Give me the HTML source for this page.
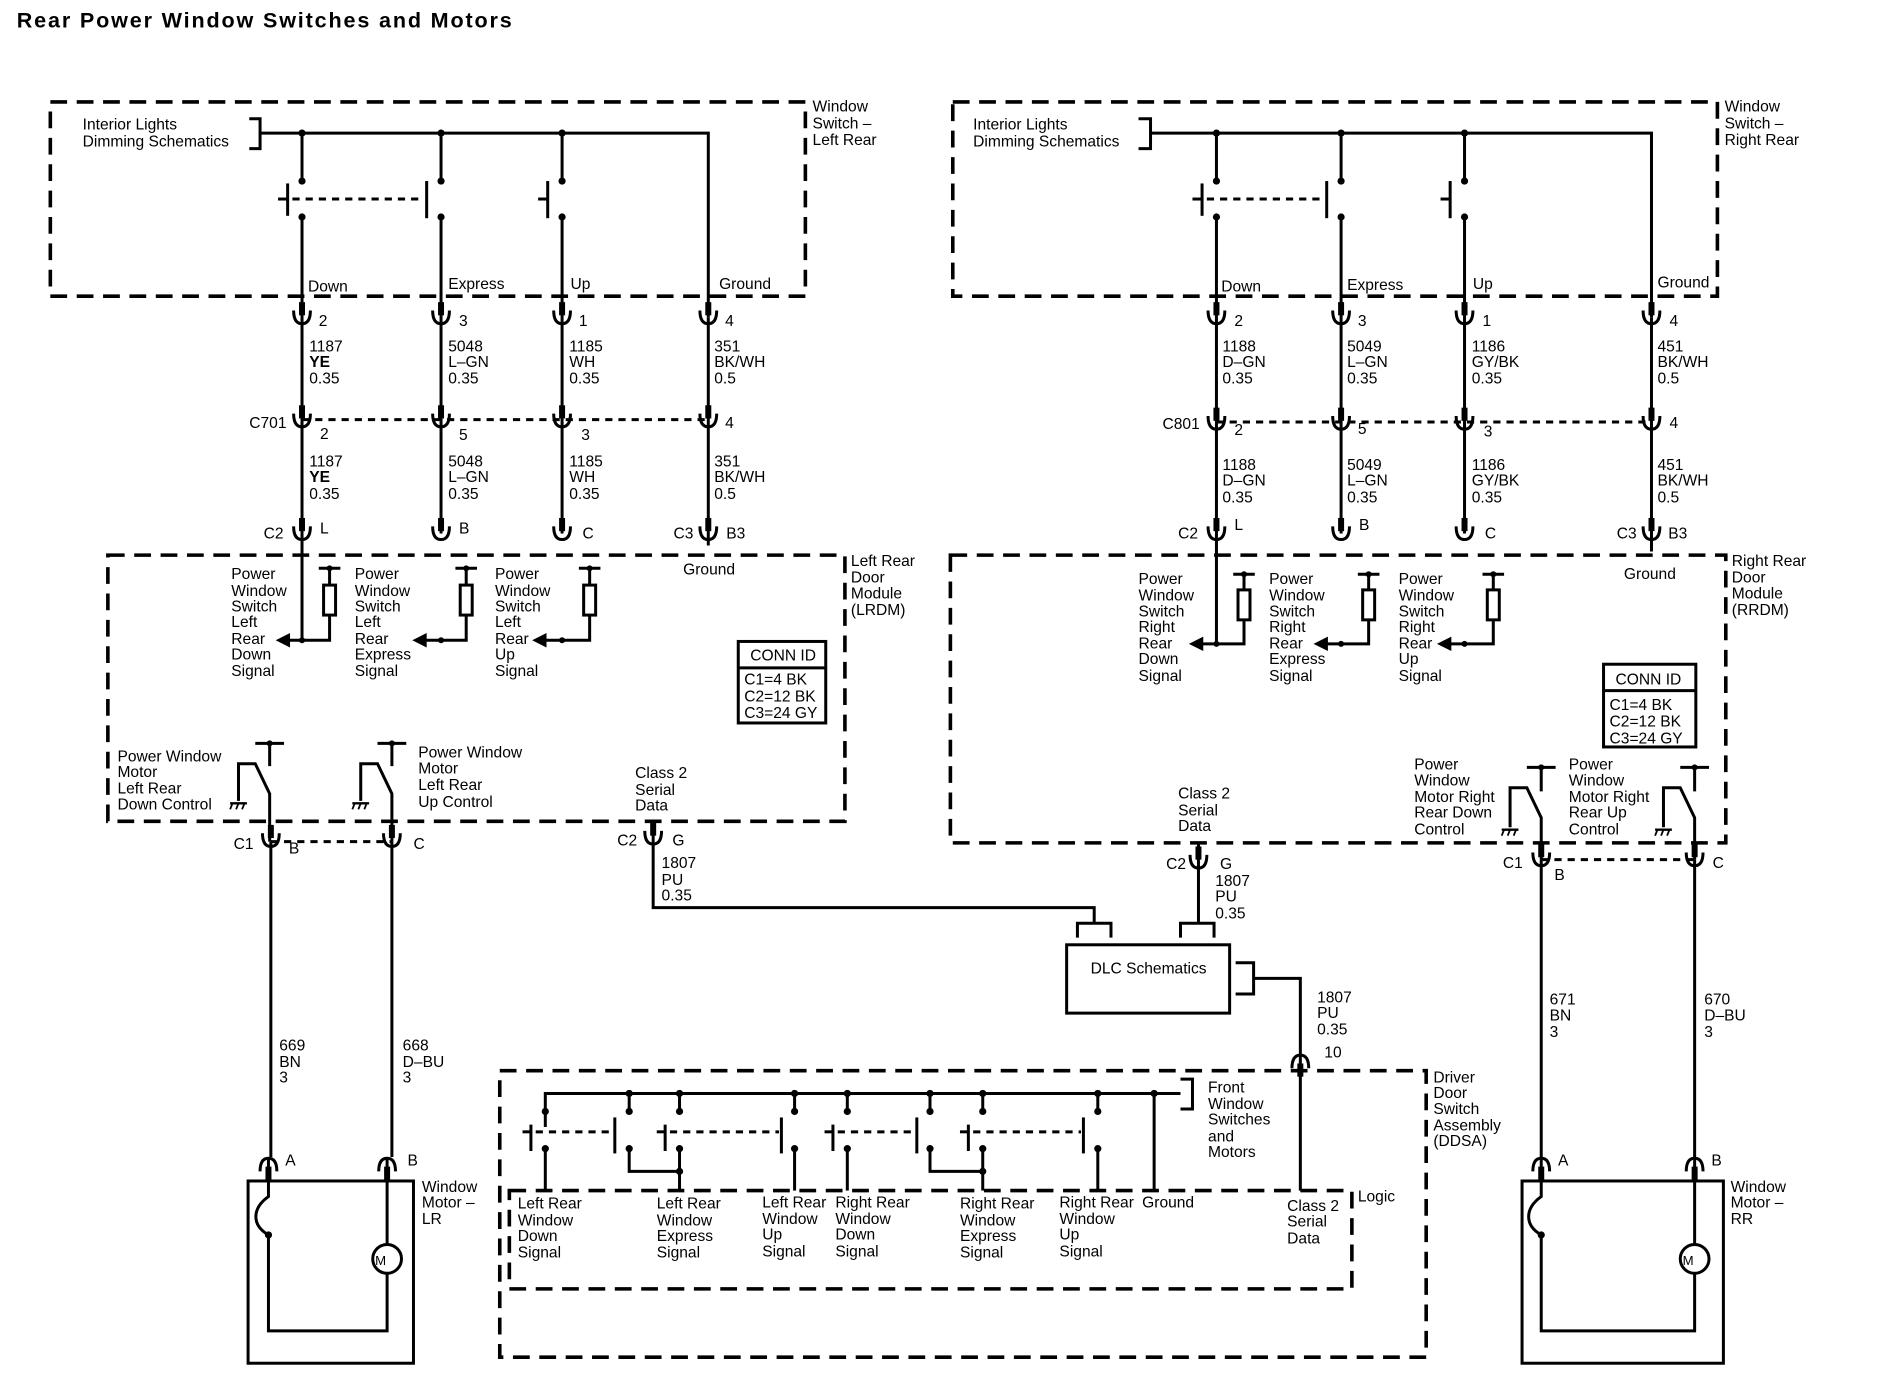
<!DOCTYPE html>
<html><head><meta charset="utf-8"><style>
html,body{margin:0;padding:0;background:#fff;}
svg{display:block;}
text{font-family:"Liberation Sans",Arial,sans-serif;font-size:13px;fill:#000;}
.b{font-weight:bold;}
</style></head><body>
<svg width="1878" height="1392" viewBox="0 0 1567 1161" preserveAspectRatio="none" xmlns="http://www.w3.org/2000/svg">
<defs>
<g id="cup"><line x1="0" y1="-14" x2="0" y2="-3" stroke="#000" stroke-width="5"/><path d="M-7,-7 Q-7,4 0,4 Q7,4 7,-7" fill="none" stroke="#000" stroke-width="2.5"/></g>
<g id="arch"><line x1="0" y1="14" x2="0" y2="3" stroke="#000" stroke-width="5"/><path d="M-7,7 Q-7,-4 0,-4 Q7,-4 7,7" fill="none" stroke="#000" stroke-width="2.5"/></g>
<g id="gnd"><line x1="-7" y1="0" x2="7" y2="0" stroke="#000" stroke-width="2"/><line x1="-5" y1="0" x2="-7" y2="5" stroke="#000" stroke-width="1.5"/><line x1="0" y1="0" x2="-2" y2="5" stroke="#000" stroke-width="1.5"/><line x1="5" y1="0" x2="3" y2="5" stroke="#000" stroke-width="1.5"/></g>
</defs>
<text x="14" y="23" class="b" style="font-size:18px" textLength="413">Rear Power Window Switches and Motors</text>

<g fill="none" stroke="#000" stroke-width="3" stroke-dasharray="14,8">
<rect x="42" y="85" width="630" height="162"/>
<rect x="795" y="85" width="638" height="162"/>
<rect x="90" y="463" width="615" height="222"/>
<rect x="793" y="463" width="647" height="240"/>
<rect x="417" y="893" width="773" height="239"/>
<rect x="425" y="993" width="703" height="82"/>
</g>

<g fill="none" stroke="#000" stroke-width="2.5">
<path d="M208,99 H217 V124 H208"/>
<path d="M217,111 H591 V265"/>
<line x1="252" y1="111" x2="252" y2="151"/><line x1="368" y1="111" x2="368" y2="151"/><line x1="469" y1="111" x2="469" y2="151"/>
<line x1="252" y1="181" x2="252" y2="445"/><line x1="368" y1="181" x2="368" y2="445"/><line x1="469" y1="181" x2="469" y2="445"/><line x1="591" y1="265" x2="591" y2="455"/>
<line x1="240" y1="153" x2="240" y2="180"/><line x1="232" y1="166" x2="240" y2="166"/>
<line x1="356" y1="151" x2="356" y2="182"/>
<line x1="457" y1="151" x2="457" y2="182"/><line x1="449" y1="166" x2="457" y2="166"/>
<line x1="244" y1="166" x2="354" y2="166" stroke-dasharray="6,5"/>
<line x1="252" y1="350" x2="591" y2="350" stroke-dasharray="6,5"/>
<line x1="252" y1="445" x2="252" y2="534"/>
<path d="M266,474 H284 M275,474 V488 M275,513 V534 H238"/><rect x="270" y="488" width="10" height="25"/>
<path d="M380,474 H398 M389,474 V488 M389,513 V534 H352"/><rect x="384" y="488" width="10" height="25"/>
<path d="M483,474 H501 M492,474 V488 M492,513 V534 H452"/><rect x="487" y="488" width="10" height="25"/>
<path d="M213,620 H237 M225,620 V639"/><path d="M199,668 V637 H213 L225,662 V702"/>
<path d="M315,620 H339 M327,620 V639"/><path d="M301,668 V637 H315 L327,662 V702"/>
<line x1="226" y1="702" x2="327" y2="702" stroke-dasharray="6,5"/>
<line x1="226" y1="702" x2="226" y2="965"/><line x1="327" y1="702" x2="327" y2="965"/>
<path d="M545,685 V757 H913 V770"/>
<path d="M899,782 V770 H927 V782"/>
<path d="M985,782 V770 H1013 V782"/>
<rect x="890" y="788" width="136" height="57"/>
<path d="M1031,803 H1046 V829 H1031 M1046,816 H1085 V993"/>
<rect x="207" y="985" width="138" height="152"/>
<path d="M224,965 V998 C210,1008 210,1022 224,1030 V1110 H323 V1062 M323,1038 V965"/>
<circle cx="323" cy="1050" r="12"/>
<path d="M455,940 V912 H985 M985,900 H995 V925 H985"/>
<line x1="525" y1="912" x2="525" y2="925"/><line x1="567" y1="912" x2="567" y2="925"/>
<line x1="663" y1="912" x2="663" y2="925"/><line x1="707" y1="912" x2="707" y2="925"/>
<line x1="776" y1="912" x2="776" y2="925"/><line x1="820" y1="912" x2="820" y2="925"/>
<line x1="916" y1="912" x2="916" y2="925"/><line x1="963" y1="912" x2="963" y2="993"/>
<line x1="455" y1="960" x2="455" y2="993"/>
<path d="M525,960 V977 H567"/><line x1="567" y1="960" x2="567" y2="993"/>
<line x1="663" y1="960" x2="663" y2="993"/><line x1="707" y1="960" x2="707" y2="993"/>
<path d="M776,960 V977 H820"/><line x1="820" y1="960" x2="820" y2="993"/>
<line x1="916" y1="960" x2="916" y2="993"/>
<line x1="443" y1="938" x2="443" y2="960"/><line x1="436" y1="944" x2="443" y2="944"/>
<line x1="513" y1="932" x2="513" y2="962"/>
<line x1="555" y1="938" x2="555" y2="960"/><line x1="548" y1="944" x2="555" y2="944"/>
<line x1="652" y1="932" x2="652" y2="962"/>
<line x1="695" y1="938" x2="695" y2="960"/><line x1="688" y1="944" x2="695" y2="944"/>
<line x1="765" y1="932" x2="765" y2="962"/>
<line x1="808" y1="938" x2="808" y2="960"/><line x1="801" y1="944" x2="808" y2="944"/>
<line x1="904" y1="932" x2="904" y2="962"/>
<g stroke-dasharray="6,5"><line x1="447" y1="944" x2="511" y2="944"/><line x1="559" y1="944" x2="650" y2="944"/><line x1="699" y1="944" x2="763" y2="944"/><line x1="812" y1="944" x2="902" y2="944"/></g>

<path d="M950,99 H960 V124 H950"/>
<path d="M960,111 H1378 V265"/>
<line x1="1015" y1="111" x2="1015" y2="151"/><line x1="1119" y1="111" x2="1119" y2="151"/><line x1="1222" y1="111" x2="1222" y2="151"/>
<line x1="1015" y1="181" x2="1015" y2="445"/><line x1="1119" y1="181" x2="1119" y2="445"/><line x1="1222" y1="181" x2="1222" y2="445"/><line x1="1378" y1="265" x2="1378" y2="460"/>
<line x1="1003" y1="153" x2="1003" y2="180"/><line x1="995" y1="166" x2="1003" y2="166"/>
<line x1="1107" y1="151" x2="1107" y2="182"/>
<line x1="1210" y1="151" x2="1210" y2="182"/><line x1="1202" y1="166" x2="1210" y2="166"/>
<line x1="1007" y1="166" x2="1105" y2="166" stroke-dasharray="6,5"/>
<line x1="1015" y1="352" x2="1378" y2="352" stroke-dasharray="6,5"/>
<line x1="1015" y1="445" x2="1015" y2="537"/>
<path d="M1029,479 H1047 M1038,479 V492 M1038,517 V537 H1000"/><rect x="1033" y="492" width="10" height="25"/>
<path d="M1133,479 H1151 M1142,479 V492 M1142,517 V537 H1104"/><rect x="1137" y="492" width="10" height="25"/>
<path d="M1237,479 H1255 M1246,479 V492 M1246,517 V537 H1207"/><rect x="1241" y="492" width="10" height="25"/>
<path d="M1274,640 H1298 M1286,640 V660"/><path d="M1260,690 V657 H1274 L1286,682 V717"/>
<path d="M1402,640 H1426 M1414,640 V660"/><path d="M1388,690 V657 H1402 L1414,682 V717"/>
<line x1="1286" y1="717" x2="1414" y2="717" stroke-dasharray="6,5"/>
<line x1="1286" y1="717" x2="1286" y2="965"/><line x1="1414" y1="717" x2="1414" y2="965"/>
<path d="M1000,703 V770"/>
<rect x="1270" y="985" width="168" height="152"/>
<path d="M1286,965 V998 C1272,1008 1272,1022 1286,1030 V1110 H1414 V1062 M1414,1038 V965"/>
<circle cx="1414" cy="1050" r="12"/>
</g>
<g fill="#000">
<path d="M230,534 L242,528 L242,540 Z"/><path d="M344,534 L356,528 L356,540 Z"/><path d="M444,534 L456,528 L456,540 Z"/>
<path d="M992,537 L1004,531 L1004,543 Z"/><path d="M1096,537 L1108,531 L1108,543 Z"/><path d="M1199,537 L1211,531 L1211,543 Z"/>
</g>
<g fill="none" stroke="#000" stroke-width="2.5"><rect x="616" y="535" width="73" height="68"/><line x1="616" y1="557" x2="689" y2="557"/>
<rect x="1338" y="554" width="77" height="69"/><line x1="1338" y1="576" x2="1415" y2="576"/></g>
<text x="626" y="551">CONN ID</text><text x="621" y="571">C1=4 BK</text><text x="621" y="585">C2=12 BK</text><text x="621" y="599">C3=24 GY</text>
<text x="1348" y="571">CONN ID</text><text x="1343" y="592">C1=4 BK</text><text x="1343" y="606">C2=12 BK</text><text x="1343" y="620">C3=24 GY</text>

<g fill="#000">
<circle cx="252" cy="111" r="3"/><circle cx="368" cy="111" r="3"/><circle cx="469" cy="111" r="3"/>
<circle cx="252" cy="151" r="3"/><circle cx="368" cy="151" r="3"/><circle cx="469" cy="151" r="3"/>
<circle cx="252" cy="181" r="3"/><circle cx="368" cy="181" r="3"/><circle cx="469" cy="181" r="3"/>
<circle cx="1015" cy="111" r="3"/><circle cx="1119" cy="111" r="3"/><circle cx="1222" cy="111" r="3"/>
<circle cx="1015" cy="151" r="3"/><circle cx="1119" cy="151" r="3"/><circle cx="1222" cy="151" r="3"/>
<circle cx="1015" cy="181" r="3"/><circle cx="1119" cy="181" r="3"/><circle cx="1222" cy="181" r="3"/>
<circle cx="252" cy="534" r="2.5"/><circle cx="368" cy="534" r="2.5"/><circle cx="469" cy="534" r="2.5"/>
<circle cx="1015" cy="537" r="2.5"/><circle cx="1119" cy="537" r="2.5"/><circle cx="1222" cy="537" r="2.5"/>
<circle cx="275" cy="474" r="2.5"/><circle cx="389" cy="474" r="2.5"/><circle cx="492" cy="474" r="2.5"/>
<circle cx="1038" cy="479" r="2.5"/><circle cx="1142" cy="479" r="2.5"/><circle cx="1246" cy="479" r="2.5"/>
<circle cx="225" cy="620" r="2.5"/><circle cx="327" cy="620" r="2.5"/><circle cx="1286" cy="640" r="2.5"/><circle cx="1414" cy="640" r="2.5"/>
<circle cx="525" cy="912" r="3"/><circle cx="567" cy="912" r="3"/><circle cx="663" cy="912" r="3"/><circle cx="707" cy="912" r="3"/><circle cx="776" cy="912" r="3"/><circle cx="820" cy="912" r="3"/><circle cx="916" cy="912" r="3"/><circle cx="963" cy="912" r="3"/>
<circle cx="455" cy="927" r="3"/><circle cx="525" cy="927" r="3"/><circle cx="567" cy="927" r="3"/><circle cx="663" cy="927" r="3"/><circle cx="707" cy="927" r="3"/><circle cx="776" cy="927" r="3"/><circle cx="820" cy="927" r="3"/><circle cx="916" cy="927" r="3"/>
<circle cx="455" cy="958" r="3"/><circle cx="525" cy="958" r="3"/><circle cx="567" cy="958" r="3"/><circle cx="663" cy="958" r="3"/><circle cx="707" cy="958" r="3"/><circle cx="776" cy="958" r="3"/><circle cx="820" cy="958" r="3"/><circle cx="916" cy="958" r="3"/>
<circle cx="567" cy="977" r="3"/><circle cx="820" cy="977" r="3"/>
<circle cx="224" cy="1030" r="3"/><circle cx="1286" cy="1030" r="3"/>
</g>
<use href="#gnd" x="199" y="670"/><use href="#gnd" x="301" y="670"/><use href="#gnd" x="1260" y="692"/><use href="#gnd" x="1388" y="692"/>

<use href="#cup" x="252" y="266"/><use href="#cup" x="368" y="266"/><use href="#cup" x="469" y="266"/><use href="#cup" x="591" y="266"/>
<use href="#cup" x="252" y="352"/><use href="#cup" x="368" y="352"/><use href="#cup" x="469" y="352"/><use href="#cup" x="591" y="352"/>
<use href="#cup" x="252" y="446"/><use href="#cup" x="368" y="446"/><use href="#cup" x="469" y="446"/><use href="#cup" x="591" y="446"/>
<use href="#cup" x="1015" y="266"/><use href="#cup" x="1119" y="266"/><use href="#cup" x="1222" y="266"/><use href="#cup" x="1378" y="266"/>
<use href="#cup" x="1015" y="354"/><use href="#cup" x="1119" y="354"/><use href="#cup" x="1222" y="354"/><use href="#cup" x="1378" y="354"/>
<use href="#cup" x="1015" y="446"/><use href="#cup" x="1119" y="446"/><use href="#cup" x="1222" y="446"/><use href="#cup" x="1378" y="446"/>
<use href="#cup" x="226" y="702"/><use href="#cup" x="327" y="702"/><use href="#cup" x="545" y="700"/>
<use href="#cup" x="1286" y="718"/><use href="#cup" x="1414" y="718"/><use href="#cup" x="1000" y="720"/>
<use href="#arch" x="224" y="970"/><use href="#arch" x="323" y="970"/><use href="#arch" x="1286" y="970"/><use href="#arch" x="1414" y="970"/><use href="#arch" x="1085" y="884"/>

<text x="69" y="108">Interior Lights</text><text x="69" y="122">Dimming Schematics</text>
<text x="678" y="93">Window</text><text x="678" y="107">Switch –</text><text x="678" y="121">Left Rear</text>
<text x="257" y="243">Down</text><text x="374" y="241">Express</text><text x="476" y="241">Up</text><text x="600" y="241">Ground</text>
<text x="266" y="272">2</text><text x="383" y="272">3</text><text x="483" y="272">1</text><text x="605" y="272">4</text>
<text x="258" y="293">1187</text><text x="258" y="306" class="b">YE</text><text x="258" y="320">0.35</text>
<text x="374" y="293">5048</text><text x="374" y="306">L–GN</text><text x="374" y="320">0.35</text>
<text x="475" y="293">1185</text><text x="475" y="306">WH</text><text x="475" y="320">0.35</text>
<text x="596" y="293">351</text><text x="596" y="306">BK/WH</text><text x="596" y="320">0.5</text>
<text x="208" y="357">C701</text>
<text x="267" y="366">2</text><text x="383" y="367">5</text><text x="485" y="367">3</text><text x="605" y="357">4</text>
<text x="258" y="389">1187</text><text x="258" y="402" class="b">YE</text><text x="258" y="416">0.35</text>
<text x="374" y="389">5048</text><text x="374" y="402">L–GN</text><text x="374" y="416">0.35</text>
<text x="475" y="389">1185</text><text x="475" y="402">WH</text><text x="475" y="416">0.35</text>
<text x="596" y="389">351</text><text x="596" y="402">BK/WH</text><text x="596" y="416">0.5</text>
<text x="220" y="449">C2</text><text x="267" y="445">L</text><text x="383" y="445">B</text><text x="486" y="449">C</text>
<text x="562" y="449">C3</text><text x="606" y="449">B3</text><text x="570" y="479">Ground</text>
<text x="710" y="472">Left Rear</text><text x="710" y="486">Door</text><text x="710" y="499">Module</text><text x="710" y="513">(LRDM)</text>
<g><text x="193" y="483">Power</text><text x="193" y="497">Window</text><text x="193" y="510">Switch</text><text x="193" y="523">Left</text><text x="193" y="537">Rear</text><text x="193" y="550">Down</text><text x="193" y="564">Signal</text></g>
<g><text x="296" y="483">Power</text><text x="296" y="497">Window</text><text x="296" y="510">Switch</text><text x="296" y="523">Left</text><text x="296" y="537">Rear</text><text x="296" y="550">Express</text><text x="296" y="564">Signal</text></g>
<g><text x="413" y="483">Power</text><text x="413" y="497">Window</text><text x="413" y="510">Switch</text><text x="413" y="523">Left</text><text x="413" y="537">Rear</text><text x="413" y="550">Up</text><text x="413" y="564">Signal</text></g>
<text x="98" y="635">Power Window</text><text x="98" y="648">Motor</text><text x="98" y="662">Left Rear</text><text x="98" y="675">Down Control</text>
<text x="349" y="632">Power Window</text><text x="349" y="645">Motor</text><text x="349" y="659">Left Rear</text><text x="349" y="673">Up Control</text>
<text x="530" y="649">Class 2</text><text x="530" y="663">Serial</text><text x="530" y="676">Data</text>
<text x="195" y="708">C1</text><text x="241" y="712">B</text><text x="345" y="708">C</text>
<text x="515" y="705">C2</text><text x="561" y="705">G</text>
<text x="552" y="724">1807</text><text x="552" y="738">PU</text><text x="552" y="751">0.35</text>
<text x="910" y="812">DLC Schematics</text>
<text x="1099" y="836">1807</text><text x="1099" y="849">PU</text><text x="1099" y="863">0.35</text><text x="1105" y="882">10</text>
<text x="233" y="876">669</text><text x="233" y="890">BN</text><text x="233" y="903">3</text>
<text x="336" y="876">668</text><text x="336" y="890">D–BU</text><text x="336" y="903">3</text>
<text x="238" y="972">A</text><text x="340" y="972">B</text>
<text x="352" y="994">Window</text><text x="352" y="1007">Motor –</text><text x="352" y="1021">LR</text>
<text x="313" y="1055" style="font-size:11px">M</text>
<text x="1008" y="911">Front</text><text x="1008" y="925">Window</text><text x="1008" y="938">Switches</text><text x="1008" y="952">and</text><text x="1008" y="965">Motors</text>
<text x="1196" y="903">Driver</text><text x="1196" y="916">Door</text><text x="1196" y="929">Switch</text><text x="1196" y="943">Assembly</text><text x="1196" y="956">(DDSA)</text>
<text x="1133" y="1002">Logic</text>
<g><text x="432" y="1008">Left Rear</text><text x="432" y="1022">Window</text><text x="432" y="1035">Down</text><text x="432" y="1049">Signal</text></g>
<g><text x="548" y="1008">Left Rear</text><text x="548" y="1022">Window</text><text x="548" y="1035">Express</text><text x="548" y="1049">Signal</text></g>
<g><text x="636" y="1007">Left Rear</text><text x="636" y="1021">Window</text><text x="636" y="1034">Up</text><text x="636" y="1048">Signal</text></g>
<g><text x="697" y="1007">Right Rear</text><text x="697" y="1021">Window</text><text x="697" y="1034">Down</text><text x="697" y="1048">Signal</text></g>
<g><text x="801" y="1008">Right Rear</text><text x="801" y="1022">Window</text><text x="801" y="1035">Express</text><text x="801" y="1049">Signal</text></g>
<g><text x="884" y="1007">Right Rear</text><text x="884" y="1021">Window</text><text x="884" y="1034">Up</text><text x="884" y="1048">Signal</text></g>
<text x="953" y="1007">Ground</text>
<text x="1074" y="1010">Class 2</text><text x="1074" y="1023">Serial</text><text x="1074" y="1037">Data</text>

<text x="812" y="108">Interior Lights</text><text x="812" y="122">Dimming Schematics</text>
<text x="1439" y="93">Window</text><text x="1439" y="107">Switch –</text><text x="1439" y="121">Right Rear</text>
<text x="1019" y="243">Down</text><text x="1124" y="242">Express</text><text x="1229" y="241">Up</text><text x="1383" y="240">Ground</text>
<text x="1030" y="272">2</text><text x="1133" y="272">3</text><text x="1237" y="272">1</text><text x="1393" y="272">4</text>
<text x="1020" y="293">1188</text><text x="1020" y="306">D–GN</text><text x="1020" y="320">0.35</text>
<text x="1124" y="293">5049</text><text x="1124" y="306">L–GN</text><text x="1124" y="320">0.35</text>
<text x="1228" y="293">1186</text><text x="1228" y="306">GY/BK</text><text x="1228" y="320">0.35</text>
<text x="1383" y="293">451</text><text x="1383" y="306">BK/WH</text><text x="1383" y="320">0.5</text>
<text x="970" y="358">C801</text>
<text x="1030" y="363">2</text><text x="1133" y="362">5</text><text x="1238" y="364">3</text><text x="1393" y="357">4</text>
<text x="1020" y="392">1188</text><text x="1020" y="405">D–GN</text><text x="1020" y="419">0.35</text>
<text x="1124" y="392">5049</text><text x="1124" y="405">L–GN</text><text x="1124" y="419">0.35</text>
<text x="1228" y="392">1186</text><text x="1228" y="405">GY/BK</text><text x="1228" y="419">0.35</text>
<text x="1383" y="392">451</text><text x="1383" y="405">BK/WH</text><text x="1383" y="419">0.5</text>
<text x="983" y="449">C2</text><text x="1030" y="442">L</text><text x="1134" y="442">B</text><text x="1239" y="449">C</text>
<text x="1349" y="449">C3</text><text x="1392" y="449">B3</text><text x="1355" y="483">Ground</text>
<text x="1445" y="472">Right Rear</text><text x="1445" y="486">Door</text><text x="1445" y="499">Module</text><text x="1445" y="513">(RRDM)</text>
<g><text x="950" y="487">Power</text><text x="950" y="501">Window</text><text x="950" y="514">Switch</text><text x="950" y="527">Right</text><text x="950" y="541">Rear</text><text x="950" y="554">Down</text><text x="950" y="568">Signal</text></g>
<g><text x="1059" y="487">Power</text><text x="1059" y="501">Window</text><text x="1059" y="514">Switch</text><text x="1059" y="527">Right</text><text x="1059" y="541">Rear</text><text x="1059" y="554">Express</text><text x="1059" y="568">Signal</text></g>
<g><text x="1167" y="487">Power</text><text x="1167" y="501">Window</text><text x="1167" y="514">Switch</text><text x="1167" y="527">Right</text><text x="1167" y="541">Rear</text><text x="1167" y="554">Up</text><text x="1167" y="568">Signal</text></g>
<g><text x="1180" y="642">Power</text><text x="1180" y="655">Window</text><text x="1180" y="669">Motor Right</text><text x="1180" y="682">Rear Down</text><text x="1180" y="696">Control</text></g>
<g><text x="1309" y="642">Power</text><text x="1309" y="655">Window</text><text x="1309" y="669">Motor Right</text><text x="1309" y="682">Rear Up</text><text x="1309" y="696">Control</text></g>
<text x="983" y="666">Class 2</text><text x="983" y="680">Serial</text><text x="983" y="693">Data</text>
<text x="973" y="725">C2</text><text x="1018" y="725">G</text>
<text x="1014" y="739">1807</text><text x="1014" y="752">PU</text><text x="1014" y="766">0.35</text>
<text x="1254" y="724">C1</text><text x="1297" y="734">B</text><text x="1429" y="724">C</text>
<text x="1293" y="838">671</text><text x="1293" y="851">BN</text><text x="1293" y="865">3</text>
<text x="1422" y="838">670</text><text x="1422" y="851">D–BU</text><text x="1422" y="865">3</text>
<text x="1300" y="972">A</text><text x="1428" y="972">B</text>
<text x="1444" y="994">Window</text><text x="1444" y="1007">Motor –</text><text x="1444" y="1021">RR</text>
<text x="1404" y="1055" style="font-size:11px">M</text>
</svg>
</body></html>
